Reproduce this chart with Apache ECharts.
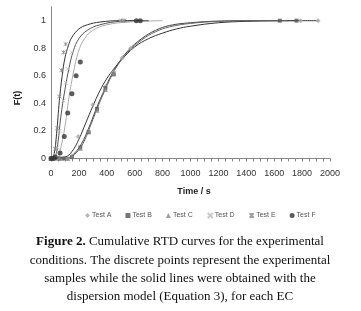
<!DOCTYPE html>
<html>
<head>
<meta charset="utf-8">
<script src="https://cdn.jsdelivr.net/npm/echarts@6/dist/echarts.min.js"></script>
<style>
  html, body { margin: 0; padding: 0; background: #fff; }
  #chart { width: 361px; height: 311px; }
</style>
</head>
<body>
<div id="chart"></div>
<script>
// axis ticks
const xTicks = [0, 200, 400, 600, 800, 1000, 1200, 1400, 1600, 1800, 2000];
const yTicks = [0, 0.2, 0.4, 0.6, 0.8, 1];

const testNames = ['Test A', 'Test B', 'Test C', 'Test D', 'Test E', 'Test F'];

// experimental samples [time s, F(t)]
const pointsA = [[0, 0], [30, 0], [60, 0], [90, 0], [120, 0], [195, 0.16], [300, 0.39], [390, 0.52], [450, 0.63], [510, 0.73], [570, 0.8], [1790, 1], [1915, 1]];
const pointsB = [[0, 0], [30, 0], [60, 0], [90, 0], [150, 0.01], [210, 0.08], [270, 0.19], [330, 0.36], [390, 0.51], [450, 0.61], [1640, 1], [1760, 1]];
const pointsC = [[0, 0], [60, 0], [120, 0], [150, 0.02], [210, 0.075], [270, 0.2], [330, 0.35], [390, 0.5], [450, 0.62]];
const pointsD = [[0, 0], [15, 0], [30, 0.03], [45, 0.08], [60, 0.2], [90, 0.42], [105, 0.55], [120, 0.65], [150, 0.77], [495, 1], [515, 1]];
const pointsE = [[0, 0], [15, 0.01], [30, 0.07], [45, 0.22], [60, 0.45], [75, 0.64], [90, 0.77], [105, 0.83], [505, 1], [525, 1]];
const pointsF = [[0, 0], [15, 0], [30, 0.01], [65, 0.04], [95, 0.16], [120, 0.33], [150, 0.47], [180, 0.6], [210, 0.7], [612, 1], [640, 1]];

// dispersion model curves
const fitA = [[0, 0], [100, 0.01], [150, 0.05], [200, 0.14], [250, 0.26], [300, 0.38], [350, 0.49], [400, 0.58], [450, 0.65], [500, 0.71], [600, 0.81], [700, 0.87], [800, 0.91], [900, 0.94], [1000, 0.96], [1200, 0.985], [1400, 0.995], [1700, 1], [1915, 1]];
const fitB = [[0, 0], [120, 0.005], [170, 0.04], [220, 0.11], [270, 0.22], [320, 0.35], [370, 0.47], [420, 0.58], [470, 0.67], [550, 0.78], [650, 0.87], [750, 0.93], [850, 0.965], [1000, 0.985], [1200, 0.997], [1500, 1], [1760, 1]];
const fitC = [[0, 0], [130, 0.005], [180, 0.04], [230, 0.11], [280, 0.23], [330, 0.36], [380, 0.48], [430, 0.59], [480, 0.68], [550, 0.77], [650, 0.86], [750, 0.92], [850, 0.955], [1000, 0.98], [1200, 0.995], [1500, 1], [1700, 1]];
const fitD = [[0, 0], [30, 0.01], [50, 0.12], [70, 0.3], [100, 0.5], [130, 0.66], [160, 0.78], [200, 0.87], [260, 0.93], [350, 0.97], [500, 0.995], [700, 1]];
const fitE = [[0, 0], [20, 0.02], [40, 0.18], [60, 0.42], [80, 0.6], [100, 0.73], [125, 0.82], [150, 0.88], [200, 0.94], [260, 0.97], [350, 0.99], [500, 1], [700, 1]];
const fitF = [[0, 0], [50, 0.01], [70, 0.08], [95, 0.2], [130, 0.45], [160, 0.62], [195, 0.77], [240, 0.87], [300, 0.93], [400, 0.97], [550, 0.99], [800, 1]];

const captionLines = [
  '{b|Figure 2.} Cumulative RTD curves for the experimental',
  'conditions. The discrete points represent the experimental',
  'samples while the solid lines were obtained with the',
  'dispersion model (Equation 3), for each EC'
];

const crossPath = 'path://M0,0L10,10M10,0L0,10';
const starPath = 'path://M0,0L10,10M10,0L0,10M5,-1L5,11';

const styles = [
  { symbol: 'diamond', size: 5, color: '#a8a8a8', line: '#333' },
  { symbol: 'rect', size: 4, color: '#555', line: '#444' },
  { symbol: 'triangle', size: 5, color: '#888', line: '#666' },
  { symbol: crossPath, size: 4, color: '#bbb', line: '#555', stroke: true },
  { symbol: starPath, size: 4, color: '#888', line: '#333', stroke: true },
  { symbol: 'circle', size: 5, color: '#333', line: '#aaa' }
];
const pointSets = [pointsA, pointsB, pointsC, pointsD, pointsE, pointsF];
const fitSets = [fitA, fitB, fitC, fitD, fitE, fitF];

const series = [];
fitSets.forEach((fit, i) => {
  series.push({
    name: testNames[i] + ' model',
    type: 'line',
    data: fit,
    smooth: 0.4,
    showSymbol: false,
    lineStyle: { color: styles[i].line, width: 1 },
    z: 2
  });
});
pointSets.forEach((pts, i) => {
  const s = styles[i];
  series.push({
    name: testNames[i],
    type: 'scatter',
    data: pts,
    symbol: s.symbol,
    symbolSize: s.size,
    itemStyle: s.stroke
      ? { color: 'rgba(0,0,0,0)', borderColor: s.color, borderWidth: 1 }
      : { color: s.color },
    z: 3
  });
});

const chart = echarts.init(document.getElementById('chart'));
chart.setOption({
  animation: false,
  backgroundColor: '#fff',
  grid: { left: 51, top: 6.9, width: 279, height: 151.6 },
  xAxis: {
    type: 'value',
    min: xTicks[0],
    max: xTicks[xTicks.length - 1],
    interval: 200,
    axisLine: { lineStyle: { color: '#888', width: 1 } },
    axisTick: { show: true, length: 3, lineStyle: { color: '#888' } },
    minorTick: { show: true, splitNumber: 4, length: 3, lineStyle: { color: '#888' } },
    splitLine: { show: false },
    axisLabel: { fontFamily: 'Liberation Sans', fontSize: 9, color: '#333', margin: 11, formatter: v => String(v) }
  },
  yAxis: {
    type: 'value',
    min: 0,
    max: 1.1,
    interval: 0.2,
    axisLine: { show: true, lineStyle: { color: '#888', width: 1 } },
    axisTick: { show: false },
    splitLine: { show: false },
    axisLabel: {
      fontFamily: 'Liberation Sans', fontSize: 9, color: '#333', margin: 5,
      showMaxLabel: false,
      formatter: v => (yTicks.indexOf(Math.round(v * 10) / 10) >= 0 ? String(Math.round(v * 10) / 10) : '')
    }
  },
  legend: {
    data: testNames,
    top: 207,
    left: 80,
    itemWidth: 5,
    itemHeight: 5,
    itemGap: 14,
    textStyle: { fontFamily: 'Liberation Sans', fontSize: 7, color: '#555', padding: [0, 0, 0, -3] }
  },
  graphic: [
    {
      type: 'text', x: 194, y: 192,
      style: { text: 'Time / s', font: 'bold 9px "Liberation Sans"', fill: '#222', align: 'center', verticalAlign: 'middle' }
    },
    {
      type: 'text', x: 18, y: 98, rotation: Math.PI / 2,
      style: { text: 'F(t)', font: 'bold 9px "Liberation Sans"', fill: '#222', align: 'center', verticalAlign: 'middle' }
    }
  ].concat(captionLines.map((line, i) => ({
    type: 'text', x: 180, y: 242 + i * 18.3,
    style: {
      text: line,
      font: '13px "Liberation Serif"',
      fill: '#111',
      align: 'center',
      verticalAlign: 'middle',
      rich: { b: { font: 'bold 13px "Liberation Serif"', fill: '#111' } }
    }
  }))),
  series: series
});
</script>
</body>
</html>
